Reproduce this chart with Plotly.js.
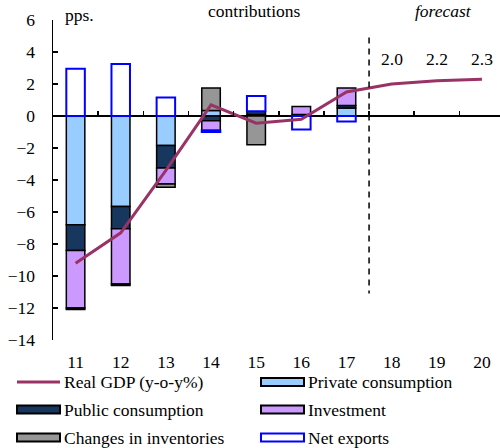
<!DOCTYPE html>
<html><head><meta charset="utf-8">
<script src="https://cdn.plot.ly/plotly-3.0.1.min.js"></script>
<style>html,body{margin:0;padding:0;background:#fff}#chart{width:500px;height:448px}</style>
</head><body><div id="chart"></div>
<script>
// ---- data ----
const years = [11, 12, 13, 14, 15, 16, 17, 18, 19, 20];
const yearLabels = ['11', '12', '13', '14', '15', '16', '17', '18', '19', '20'];
const realGDP = [-9.2, -7.3, -3.4, 0.7, -0.45, -0.2, 1.5, 2.0, 2.2, 2.3];
const privateCons = [-6.8, -5.65, -1.85, 0.35, 0.1, null, 0.5, null, null, null];
const publicCons = [-1.6, -1.4, -1.4, -0.3, 0.2, 0.1, 0.15, null, null, null];
const investment = [-3.6, -3.45, -1.0, -0.6, null, 0.5, 1.1, null, null, null];
const inventories = [-0.1, -0.1, -0.2, 1.4, -1.8, null, null, null, null, null];
const netExports = [2.95, 3.25, 1.15, -0.1, 0.95, -0.85, -0.35, null, null, null];
const forecastStart = 17.5;
const seriesNames = ['Real GDP (y-o-y%)', 'Private consumption', 'Public consumption',
                     'Investment', 'Changes in inventories', 'Net exports'];
const yTicks = [6, 4, 2, 0, -2, -4, -6, -8, -10, -12, -14];
const betweenTicks = [11.5, 12.5, 13.5, 14.5, 15.5, 16.5, 17.5, 18.5, 19.5];

// ---- styles ----
const FONT = '"Liberation Serif", "Times New Roman", serif';
const FS = 17.5;
const C = {
  gdp: '#993366', priv: '#99CCFF', pub: '#17375E', inv: '#CC99FF',
  invent: '#969696', nx: '#0000FF'
};
const L = 53, T = 20, W = 447, H = 320;
const px = x => (x - L) / W;
const py = y => (T + H - y) / H;

function barTrace(name, vals, fill, lineColor, lw) {
  return {
    type: 'bar', name: name, x: years, y: vals, width: 0.41,
    marker: {color: fill, line: {color: lineColor, width: lw}},
    showlegend: false, hoverinfo: 'x+y+name'
  };
}

const data = [
  barTrace(seriesNames[1], privateCons, C.priv, '#000', 1.5),
  barTrace(seriesNames[2], publicCons, C.pub, '#000', 1.5),
  barTrace(seriesNames[3], investment, C.inv, '#000', 1.5),
  barTrace(seriesNames[4], inventories, C.invent, '#000', 1.5),
  barTrace(seriesNames[5], netExports, '#FFFFFF', C.nx, 2),
  {type: 'scatter', mode: 'lines', name: seriesNames[0], x: years, y: realGDP,
   line: {color: C.gdp, width: 3}, showlegend: false},
  {type: 'scatter', mode: 'markers', x: [], y: [], xaxis: 'x2', yaxis: 'y',
   showlegend: false, hoverinfo: 'skip'}
];

// legend (drawn manually to match wide swatches)
const legendItems = [
  {name: seriesNames[0], kind: 'line', color: C.gdp, sx: 17, tx: 63, y: 382},
  {name: seriesNames[1], kind: 'rect', fill: C.priv, line: '#000', sx: 261, tx: 307, y: 382},
  {name: seriesNames[2], kind: 'rect', fill: C.pub, line: '#000', sx: 17, tx: 63, y: 409.5},
  {name: seriesNames[3], kind: 'rect', fill: C.inv, line: '#000', sx: 261, tx: 307, y: 409.5},
  {name: seriesNames[4], kind: 'rect', fill: C.invent, line: '#000', sx: 17, tx: 63, y: 437.5},
  {name: seriesNames[5], kind: 'rect', fill: '#FFFFFF', line: C.nx, sx: 261, tx: 307, y: 437.5}
];

const shapes = [
  {type: 'line', xref: 'x', yref: 'y', x0: forecastStart, x1: forecastStart, y0: 4.9, y1: -11.1,
   line: {color: '#000', width: 1.5, dash: '6px,5px'}}
];
const annotations = [
  {xref: 'paper', yref: 'paper', x: px(64), y: 1, xanchor: 'left', yanchor: 'middle', yshift: 5,
   text: 'pps.', showarrow: false, borderpad: 0, font: {family: FONT, size: FS, color: '#000'}},
  {xref: 'paper', yref: 'paper', x: px(254), y: py(0), xanchor: 'center', yanchor: 'top',
   text: 'contributions', showarrow: false, borderpad: 0, font: {family: FONT, size: FS, color: '#000'}},
  {xref: 'paper', yref: 'paper', x: px(443), y: py(0), xanchor: 'center', yanchor: 'top',
   text: '<i>forecast</i>', showarrow: false, borderpad: 0, font: {family: FONT, size: FS, color: '#000'}}
];
years.forEach((yr, i) => {
  if (yr > forecastStart) {
    annotations.push({xref: 'x', yref: 'y', x: yr, y: 3.55, xanchor: 'center', yanchor: 'middle',
      text: realGDP[i].toFixed(1), showarrow: false, borderpad: 0,
      font: {family: FONT, size: FS, color: '#000'}});
  }
});
legendItems.forEach(it => {
  if (it.kind === 'line') {
    shapes.push({type: 'line', xref: 'paper', yref: 'paper', x0: px(it.sx), x1: px(it.sx + 43),
      y0: py(it.y), y1: py(it.y), line: {color: it.color, width: 3}});
  } else {
    shapes.push({type: 'rect', xref: 'paper', yref: 'paper', x0: px(it.sx), x1: px(it.sx + 43),
      y0: py(it.y - 4), y1: py(it.y + 4), fillcolor: it.fill,
      line: {color: it.line, width: 2}});
  }
  annotations.push({xref: 'paper', yref: 'paper', x: px(it.tx), y: py(it.y), xanchor: 'left',
    yanchor: 'middle', text: it.name, showarrow: false, borderpad: 0,
    font: {family: FONT, size: FS, color: '#000'}});
});

const layout = {
  width: 500, height: 448,
  margin: {l: L, r: 500 - L - W, t: T, b: 448 - T - H, pad: 0},
  paper_bgcolor: '#fff', plot_bgcolor: '#fff',
  barmode: 'relative', bargap: 0,
  font: {family: FONT, size: FS, color: '#000'},
  showlegend: false,
  xaxis: {range: [10.5, 20.4], tickvals: years, ticktext: yearLabels, showgrid: false,
    zeroline: false, showline: false, ticks: 'outside', ticklen: 6, tickcolor: 'rgba(0,0,0,0)',
    tickfont: {family: FONT, size: FS, color: '#000'}, fixedrange: true},
  xaxis2: {overlaying: 'x', anchor: 'free', position: 14 / 20, side: 'bottom',
    range: [10.5, 20.4], tickvals: betweenTicks, ticks: 'inside', ticklen: 5, tickwidth: 1.5,
    tickcolor: '#000', showticklabels: false, showgrid: false, zeroline: false, showline: false},
  yaxis: {range: [-14, 6], tickvals: yTicks, ticks: 'inside', ticklen: 5, tickwidth: 1.5,
    tickcolor: '#000', showline: true, linecolor: '#000', linewidth: 1.5, showgrid: false,
    zeroline: true, zerolinecolor: '#000', zerolinewidth: 1.5, ticklabelstandoff: 13,
    tickfont: {family: FONT, size: FS, color: '#000'}, fixedrange: true},
  shapes: shapes,
  annotations: annotations
};

Plotly.newPlot('chart', data, layout, {displayModeBar: false, staticPlot: true});
</script>
</body></html>
